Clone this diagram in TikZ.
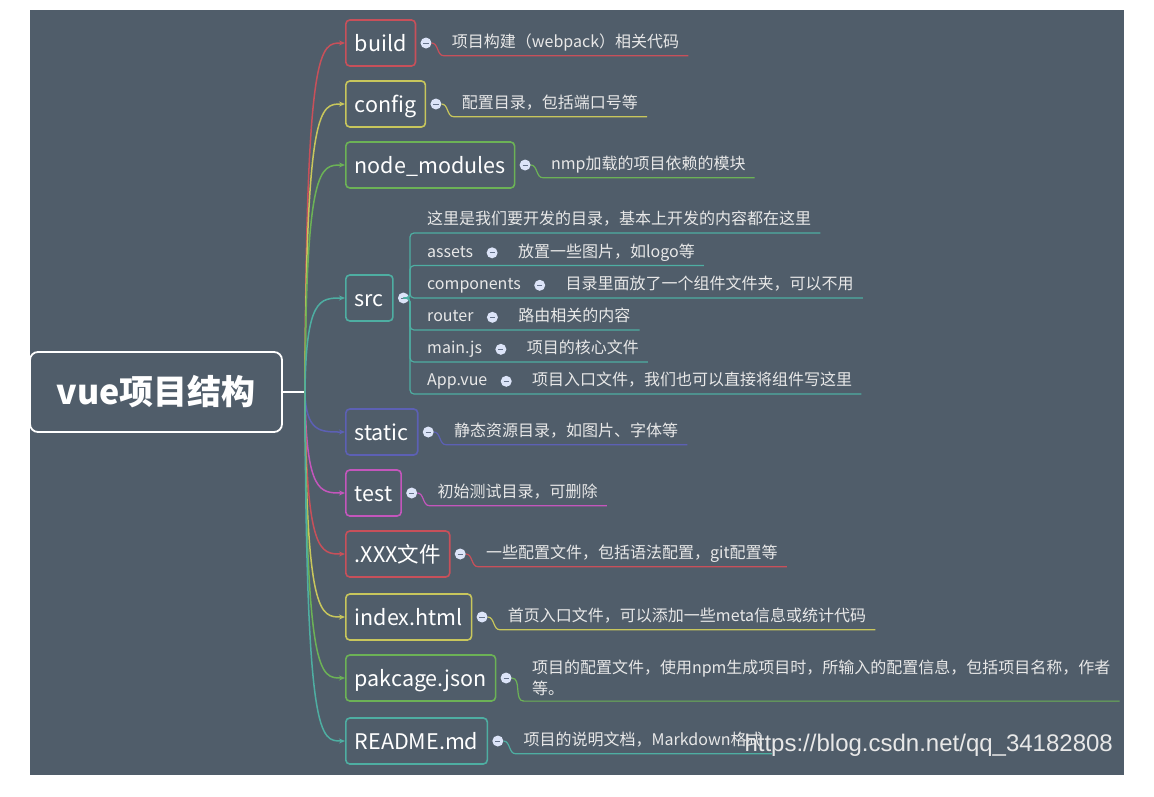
\documentclass[tikz,border=0pt]{standalone}
\usepackage{fontspec}
\setmainfont{Noto Sans CJK SC}
\newfontfamily\urlfont{Liberation Sans}
\usetikzlibrary{positioning,calc,arrows.meta}

\definecolor{bgslate}{RGB}{80,93,106}
\definecolor{cred}{RGB}{200,80,90}
\definecolor{cyellow}{RGB}{200,198,92}
\definecolor{cgreen}{RGB}{108,178,86}
\definecolor{cteal}{RGB}{78,174,162}
\definecolor{cblue}{RGB}{92,96,180}
\definecolor{cpink}{RGB}{196,86,188}
\definecolor{knobfill}{RGB}{220,228,248}
\definecolor{knobdash}{RGB}{100,114,138}
\definecolor{notetext}{RGB}{232,232,232}

\tikzset{
  rootbox/.style={draw=white, line width=1.8pt, rounded corners=8pt, minimum width=252pt, minimum height=80pt, text=white, font=\fontsize{34}{40}\selectfont\bfseries},
  topic/.style={draw=#1, line width=1.6pt, rounded corners=4pt, anchor=west, minimum height=46pt, inner xsep=9pt, text=white, font=\fontsize{21.5}{26}\selectfont, text height=18pt, text depth=2pt},
  knob/.style={circle, fill=knobfill, minimum size=11pt, inner sep=0pt, path picture={\draw[knobdash, line width=1pt] ([xshift=-2.6pt]path picture bounding box.center) -- ([xshift=2.6pt]path picture bounding box.center);}},
  note/.style={text=notetext, font=\fontsize{16}{21}\selectfont, inner xsep=0pt, inner ysep=5pt, text height=12pt, text depth=3pt},
  branch/.style={line width=1.5pt, -{Stealth[length=6pt,width=5pt]}, to path={.. controls ($(\tikztostart |- \tikztotarget)+(1,0)$) and ($(\tikztostart |- \tikztotarget)+(15,0)$) .. (\tikztotarget)}},
  uline/.style={line width=1.2pt},
}

\begin{document}
\begin{tikzpicture}[x=1pt, y=-1pt]
  \path[use as bounding box, fill=white] (0,0) rectangle (1154,796);
  \fill[bgslate] (30,10) rectangle (1124,775);

  % root
  \node[rootbox] (root) at (156,392) {vue项目结构};
  \coordinate (jn) at (305,392);
  \draw[white, line width=1.5pt] (root.east) -- (jn);

  % main topics
  \node[topic=cred] (build) at (345,43) {build};
  \node[topic=cyellow] (config) at (345,104) {config};
  \node[topic=cgreen] (nodemod) at (345,165) {node\_modules};
  \node[topic=cteal] (src) at (345,298) {src};
  \node[topic=cblue] (static) at (345,432) {static};
  \node[topic=cpink] (test) at (345,493) {test};
  \node[topic=cred] (dotx) at (345,554) {.XXX文件};
  \node[topic=cyellow] (index) at (345,617) {index.html};
  \node[topic=cgreen] (pak) at (345,678) {pakcage.json};
  \node[topic=cteal] (readme) at (345,741) {README.md};

  \draw[branch, cred] (jn) to (build.west);
  \draw[branch, cyellow] (jn) to (config.west);
  \draw[branch, cgreen] (jn) to (nodemod.west);
  \draw[branch, cteal] (jn) to (src.west);
  \draw[branch, cblue] (jn) to (static.west);
  \draw[branch, cpink] (jn) to (test.west);
  \draw[branch, cred] (jn) to (dotx.west);
  \draw[branch, cyellow] (jn) to (index.west);
  \draw[branch, cgreen] (jn) to (pak.west);
  \draw[branch, cteal] (jn) to (readme.west);

  % knobs and notes
  \node[knob, right=4pt of build] (kbuild) {};
  \node[note, right=20pt of kbuild] (dbuild) {项目构建（webpack）相关代码};
  \draw[uline, cred] (kbuild.east) to[out=0,in=180] ([xshift=-8pt]dbuild.south west) -- ([xshift=9pt]dbuild.south east);

  \node[knob, right=4pt of config] (kconfig) {};
  \node[note, right=20pt of kconfig] (dconfig) {配置目录，包括端口号等};
  \draw[uline, cyellow] (kconfig.east) to[out=0,in=180] ([xshift=-8pt]dconfig.south west) -- ([xshift=9pt]dconfig.south east);

  \node[knob, right=4pt of nodemod] (knodemod) {};
  \node[note, right=20pt of knodemod] (dnodemod) {nmp加载的项目依赖的模块};
  \draw[uline, cgreen] (knodemod.east) to[out=0,in=180] ([xshift=-8pt]dnodemod.south west) -- ([xshift=9pt]dnodemod.south east);

  \node[knob, right=4pt of static] (kstatic) {};
  \node[note, right=20pt of kstatic] (dstatic) {静态资源目录，如图片、字体等};
  \draw[uline, cblue] (kstatic.east) to[out=0,in=180] ([xshift=-8pt]dstatic.south west) -- ([xshift=9pt]dstatic.south east);

  \node[knob, right=4pt of test] (ktest) {};
  \node[note, right=20pt of ktest] (dtest) {初始测试目录，可删除};
  \draw[uline, cpink] (ktest.east) to[out=0,in=180] ([xshift=-8pt]dtest.south west) -- ([xshift=9pt]dtest.south east);

  \node[knob, right=4pt of dotx] (kdotx) {};
  \node[note, right=20pt of kdotx] (ddotx) {一些配置文件，包括语法配置，git配置等};
  \draw[uline, cred] (kdotx.east) to[out=0,in=180] ([xshift=-8pt]ddotx.south west) -- ([xshift=9pt]ddotx.south east);

  \node[knob, right=4pt of index] (kindex) {};
  \node[note, right=20pt of kindex] (dindex) {首页入口文件，可以添加一些meta信息或统计代码};
  \draw[uline, cyellow] (kindex.east) to[out=0,in=180] ([xshift=-8pt]dindex.south west) -- ([xshift=9pt]dindex.south east);

  \node[knob, right=4pt of pak] (kpak) {};
  \node[note, right=20pt of kpak, align=left, text height={}, text depth={}] (dpak) {项目的配置文件，使用npm生成项目时，所输入的配置信息，包括项目名称，作者\\等。};
  \draw[uline, cgreen] (kpak.east) to[out=0,in=180] ([xshift=-8pt]dpak.south west) -- ([xshift=9pt]dpak.south east);

  \node[knob, right=4pt of readme] (kreadme) {};
  \node[note, right=20pt of kreadme] (dreadme) {项目的说明文档，Markdown格式};
  \draw[uline, cteal] (kreadme.east) to[out=0,in=180] ([xshift=-8pt]dreadme.south west) -- ([xshift=9pt]dreadme.south east);

  % src children
  \node[knob, right=4pt of src] (ksrc) {};
  \coordinate (sp) at (410,298);
  \node[note, anchor=south west] (sdev) at (427,233) {这里是我们要开发的目录，基本上开发的内容都在这里};
  \node[note, anchor=south west] (lassets) at (427,265.5) {assets};
  \node[knob, right=13pt of lassets] (kassets) {};
  \node[note, right=20pt of kassets] (dassets) {放置一些图片，如logo等};
  \node[note, anchor=south west] (lcomp) at (427,298) {components};
  \node[knob, right=13pt of lcomp] (kcomp) {};
  \node[note, right=20pt of kcomp] (dcomp) {目录里面放了一个组件文件夹，可以不用};
  \node[note, anchor=south west] (lrouter) at (427,330) {router};
  \node[knob, right=13pt of lrouter] (krouter) {};
  \node[note, right=20pt of krouter] (drouter) {路由相关的内容};
  \node[note, anchor=south west] (lmain) at (427,362) {main.js};
  \node[knob, right=13pt of lmain] (kmain) {};
  \node[note, right=20pt of kmain] (dmain) {项目的核心文件};
  \node[note, anchor=south west] (lapp) at (427,394) {App.vue};
  \node[knob, right=13pt of lapp] (kapp) {};
  \node[note, right=20pt of kapp] (dapp) {项目入口文件，我们也可以直接将组件写这里};
  \foreach \r in {sdev, dassets, dcomp, drouter, dmain, dapp}
    \draw[uline, cteal, rounded corners=4pt] (ksrc.east) -- (sp) |- ([xshift=9pt]\r.south east);

  % watermark
  \node[anchor=west, font=\urlfont\fontsize{24}{28}\selectfont, text=white!82!gray] (wmark) at (741,745) {https://blog.csdn.net/qq\_34182808};
\end{tikzpicture}
\end{document}
